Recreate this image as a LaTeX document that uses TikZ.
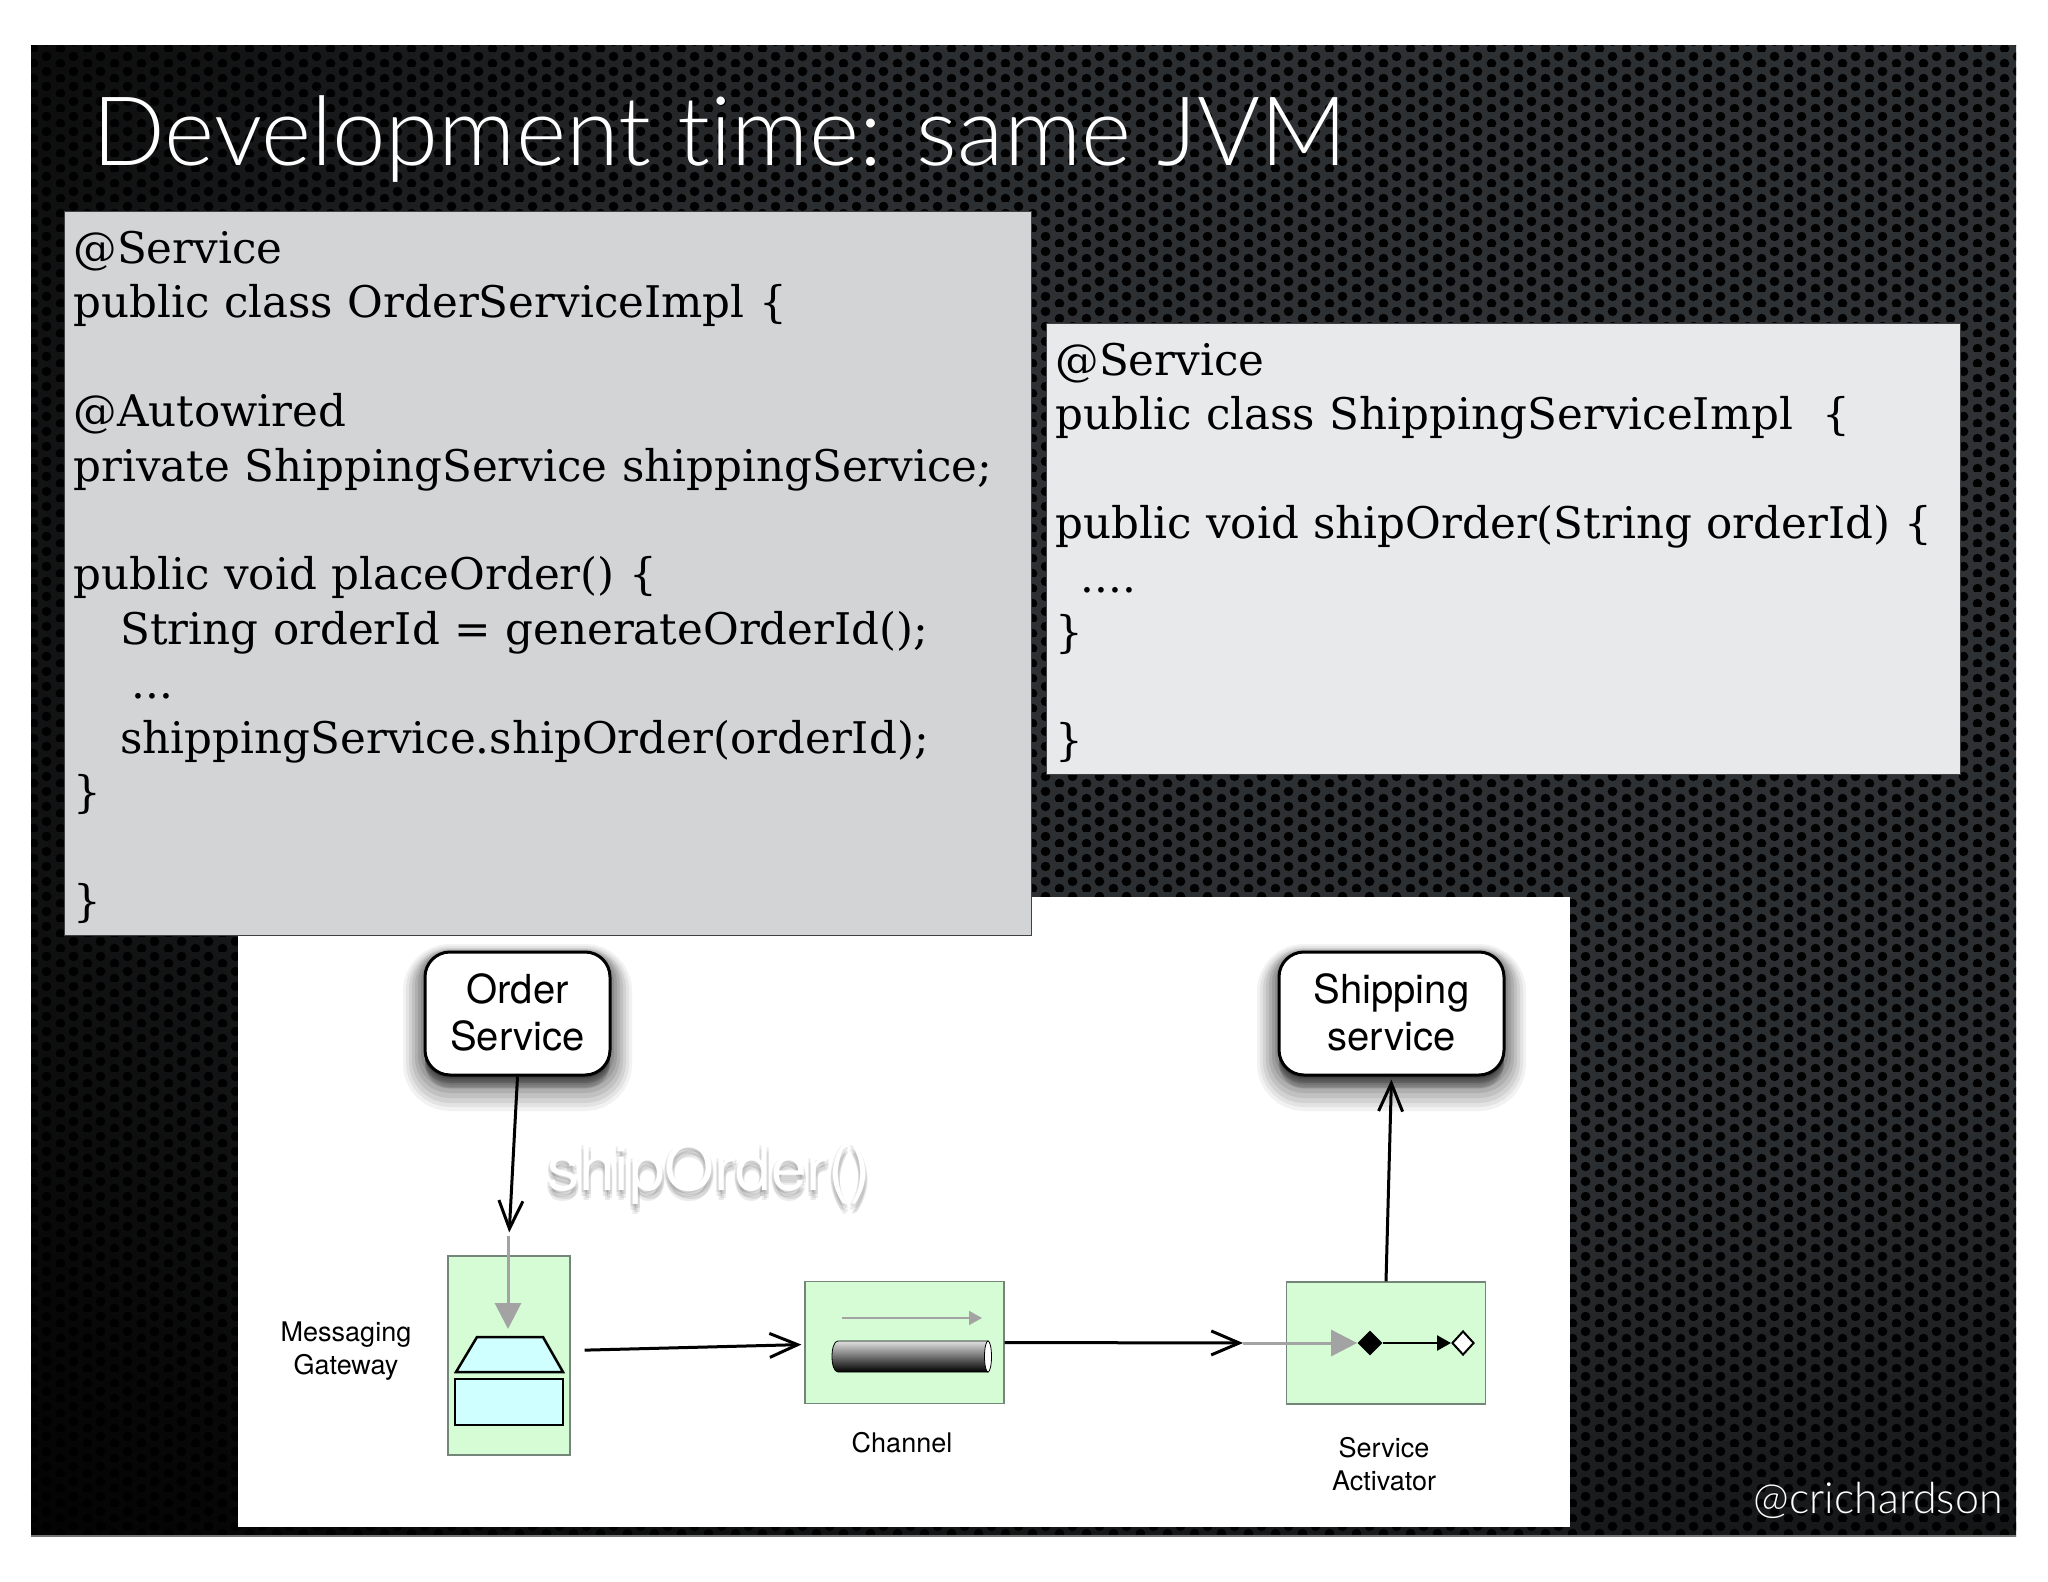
\documentclass[tikz,border=0pt]{standalone}
\usepackage{fontspec}
\usetikzlibrary{arrows.meta,patterns,shadows,shapes.geometric}
\newfontfamily\heros{TeX Gyre Heros}
\newfontfamily\gill[Ligatures=NoCommon]{Lato Light}
\newfontfamily\typewriter{DejaVu Serif}
\pgfdeclarepatternformonly{holes}{\pgfqpoint{0pt}{0pt}}{\pgfqpoint{13.5pt}{7.5pt}}{\pgfqpoint{13.5pt}{7.5pt}}{
  \pgfpathcircle{\pgfqpoint{3.375pt}{1.875pt}}{2.5pt}
  \pgfpathcircle{\pgfqpoint{10.125pt}{5.625pt}}{2.5pt}
  \pgfusepath{fill}}
\pgfdeclareradialshading{slideglow}{\pgfpoint{18bp}{12bp}}{
  rgb(0bp)=(.19,.20,.21);rgb(22bp)=(.17,.18,.19);rgb(42bp)=(.03,.03,.03);rgb(50bp)=(0,0,0);rgb(100bp)=(0,0,0)}
\definecolor{codegrey}{HTML}{D3D4D6}
\definecolor{codelight}{HTML}{E8E9EB}
\definecolor{eipgreen}{HTML}{D5FCD5}
\definecolor{eipedge}{HTML}{74867A}
\definecolor{eipcyan}{HTML}{CFFFFF}
\definecolor{flowgrey}{HTML}{A3A3A3}
\begin{document}
\begin{tikzpicture} [x=0.5pt,y=-0.5pt]
\tikzstyle{codebox}=[draw=black!75,line width=0.5pt,anchor=north west,align=left,inner xsep=4.5pt,inner ysep=0pt,font=\typewriter\fontsize{21.8}{27.2}\selectfont]
\tikzstyle{svcbox}=[draw=black,fill=white,line width=1.5pt,rounded corners=12.5pt,minimum height=61.5pt,align=center,
  font=\heros\fontsize{20}{23.5}\selectfont,
  general shadow={draw=black,fill=black,opacity=.05,line width=22pt,shadow yshift=-7pt},
  general shadow={draw=black,fill=black,opacity=.06,line width=19pt,shadow yshift=-6.5pt},
  general shadow={draw=black,fill=black,opacity=.07,line width=16pt,shadow yshift=-6pt},
  general shadow={draw=black,fill=black,opacity=.08,line width=13pt,shadow yshift=-5pt},
  general shadow={draw=black,fill=black,opacity=.09,line width=10pt,shadow yshift=-4pt},
  general shadow={draw=black,fill=black,opacity=.1,line width=7pt,shadow yshift=-3pt},
  general shadow={draw=black,fill=black,opacity=.1,line width=4pt,shadow yshift=-2pt},
  general shadow={draw=black,fill=black,opacity=.1,line width=1pt,shadow yshift=-1pt}]
\tikzstyle{eipbox}=[draw=eipedge,fill=eipgreen,line width=0.6pt,inner sep=0pt]
\tikzstyle{eiplabel}=[align=center,text=black,font=\heros\fontsize{13.5}{16.7}\selectfont]
\tikzstyle{callflow}=[draw=black,line width=1.5pt,-{Straight Barb[length=14pt,width=12pt,line width=1.5pt]}]
\tikzstyle{greyflow}=[draw=flowgrey,line width=1.5pt,-{Triangle[length=13pt,width=13pt]}]

% slide background
\fill[white] (0,0) rectangle (2048,1582);
\useasboundingbox (0,0) rectangle (2048,1582);
\shade[shading=slideglow] (31,46) rectangle (2016,1536);
\fill[pattern=holes,pattern color=black] (31,46) rectangle (2016,1536);
\draw[black!55,line width=0.6pt] (31,1536) -- (2016,1536);

\node[anchor=base west,inner sep=0pt,text=white,font=\gill\fontsize{48}{50}\selectfont] (title) at (92,166) {Development time: same JVM};
\node[anchor=base east,inner sep=0pt,text=white,font=\gill\fontsize{21.5}{24}\selectfont] (handle) at (2003,1513) {@crichardson};

% the diagram
\fill[white] (238,897) rectangle (1570,1527);

\node[svcbox,minimum width=92.5pt] (order) at (517.5,1013.5) {\raisebox{1pt}{Order}\\\raisebox{1pt}{Service}};
\node[svcbox,minimum width=112.5pt] (shipping) at (1391.5,1013.5) {\raisebox{1pt}{Shipping}\\\raisebox{1pt}{service}};

\foreach \dx/\dy in {-2/2,2/4,-2/6,2/8,0/10}
  \node[text=black,opacity=.08,font=\heros\fontsize{32}{34}\selectfont] (ghost\dy) at (709+\dx,1174+\dy) {shipOrder()};
\node[text=white,font=\heros\fontsize{32}{34}\selectfont] (shiporder) at (709,1174) {shipOrder()};

\node[eipbox,minimum width=61pt,minimum height=99.5pt] (gateway) at (509,1355.5) {};
\node[eipbox,minimum width=99.5pt,minimum height=61pt] (channel) at (904.5,1342.5) {};
\node[eipbox,minimum width=99.5pt,minimum height=61pt] (activator) at (1386,1343) {};

\node[eiplabel] (gatewaylabel) at (346,1351) {Messaging\\Gateway};
\node[eiplabel] (channellabel) at (902,1443) {Channel};
\node[eiplabel] (activatorlabel) at (1384,1464) {Service\\Activator};

% gateway icon
\draw[fill=eipcyan,line width=1.25pt] (456,1372) -- (477,1337) -- (543,1337) -- (563,1372) -- cycle;
\coordinate (gwtop) at (508,1329);
\node[draw=black,fill=eipcyan,line width=1.25pt,inner sep=0pt,minimum width=54pt,minimum height=23pt] (gwbody) at (509,1402) {};
\coordinate (gwinlet) at (508,1236);
\draw[greyflow] (gwinlet) -- (gwtop);

% channel icon
\coordinate (pipeleft) at (842,1318);
\coordinate (piperight) at (982,1318);
\draw[draw=flowgrey,line width=0.9pt,-{Triangle[length=6.5pt,width=7pt]}] (pipeleft) -- (piperight);
\shade[top color=black!12,bottom color=black,draw=black,line width=0.4pt] (838,1341) -- (988,1341) -- (988,1372) -- (838,1372)
  .. controls (830,1372) and (830,1341) .. (838,1341);
\draw[fill=white,line width=0.4pt] (988,1356.5) ellipse (3.5 and 15.5);

% activator icon
\node[diamond,fill=black,inner sep=0pt,minimum width=12.5pt,minimum height=12.5pt] (endpointin) at (1370,1343) {};
\node[diamond,draw=black,fill=white,line width=1pt,inner sep=0pt,minimum width=11pt,minimum height=12pt] (endpointout) at (1463,1343) {};
\coordinate (actinlet) at (1243,1343);
\draw[greyflow] (actinlet) -- (endpointin.west);
\draw[draw=black,line width=1.25pt,-{Triangle[length=7pt,width=7.5pt]}] (endpointin) -- (endpointout.west);

% calls and messages
\draw[callflow,shorten >=11.5pt] (order.south) -- (gwinlet |- gateway.north);
\draw[callflow,shorten <=7pt,shorten >=1.5pt] ([yshift=2.5pt]gateway.east) -- ([yshift=-1pt]channel.west);
\draw[callflow] (channel.east) -- (actinlet);
\draw[callflow,shorten >=1.5pt] (activator.north) -- (shipping.south);

% code
\node[codebox,fill=codegrey,minimum width=483.5pt,minimum height=362pt,text width=474.5pt] (ordercode) at (64,211) {%
\rule{0pt}{20pt}@Service\\
public class OrderServiceImpl \{\\
\mbox{}\\
@Autowired\\
private ShippingService shippingService;\\
\mbox{}\\
public void placeOrder() \{\\
\hspace*{23.5pt}String orderId = generateOrderId();\\
\hspace*{29pt}...\\
\hspace*{23.5pt}shippingService.shipOrder(orderId);\\
\}\\
\mbox{}\\
\}};
\node[codebox,fill=codelight,minimum width=457pt,minimum height=225.5pt,text width=448pt] (shippingcode) at (1046,323) {%
\rule{0pt}{20pt}@Service\\
public class ShippingServiceImpl \ \{\\
\mbox{}\\
public void shipOrder(String orderId) \{\\
\hspace*{12.5pt}....\\
\}\\
\mbox{}\\
\}};
\end{tikzpicture}
\end{document}
